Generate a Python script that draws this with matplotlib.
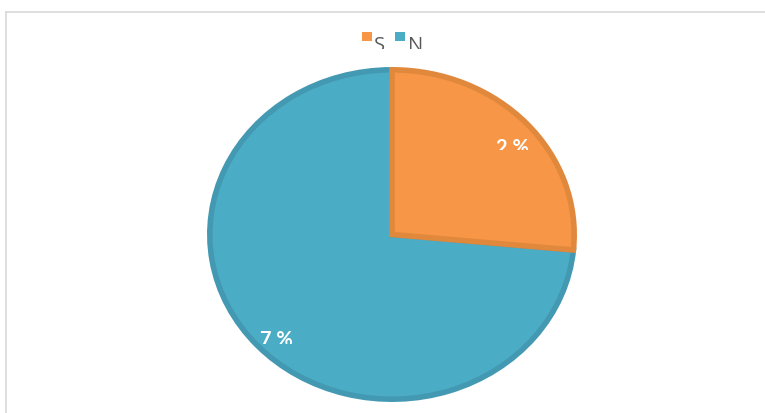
import matplotlib
matplotlib.use('Agg')
import matplotlib.pyplot as plt
from matplotlib.lines import Line2D
from matplotlib.patches import Rectangle
from matplotlib.transforms import Bbox, TransformedBbox

# Data
categories = ['S', 'N']
values = [26.5, 73.5]
value_labels = ['2 %', '7 %']          # labels as shown (cut off in the original)
fill_colors = ['#F79646', '#4BACC6']
edge_colors = ['#E0883C', '#4499B2']

W, H = 765, 413
fig = plt.figure(figsize=(W / 100, H / 100), dpi=100)


def fx(x):
    return x / W


def fy(y):
    return 1 - y / H


def clip_box(x0, y0, x1, y1):
    # box in image pixels (top-left origin)
    return TransformedBbox(Bbox.from_extents(fx(x0), fy(y1), fx(x1), fy(y0)), fig.transFigure)


# chart frame (left and top borders only are visible)
fig.add_artist(Line2D([fx(6.5), fx(6.5)], [fy(11.5), 0], color='#D9D9D9', lw=1.2))
fig.add_artist(Line2D([fx(6.5), 1], [fy(11.5), fy(11.5)], color='#D9D9D9', lw=1.2))

# pie axes (slightly stretched ellipse as in the original)
cx, cy = 392, 234.5
rx, ry = 182.2, 164.7
ax = fig.add_axes([fx(cx - rx), fy(cy + ry), 2 * rx / W, 2 * ry / H])
wedges, _ = ax.pie(values, colors=fill_colors, startangle=90, counterclock=False,
                   radius=1, wedgeprops=dict(linewidth=4))
for i, w in enumerate(wedges):
    w.set_edgecolor(edge_colors[i])
    w.set_clip_on(False)
wedges[0].set_zorder(3)
wedges[1].set_zorder(2)
ax.set_aspect('auto')
ax.set_xlim(-1, 1)
ax.set_ylim(-1, 1)
ax.axis('off')

# data labels (bottom part clipped, as in the original)
label_pos = [(512.5, 154, 150), (276.5, 346, 344)]
for (x, base, cut), txt in zip(label_pos, value_labels):
    t = fig.text(fx(x), fy(base), txt, color='white', fontsize=14.5, fontweight='bold',
                 family='Lato', ha='center', va='baseline', zorder=5)
    t.set_clip_box(clip_box(x - 40, base - 30, x + 40, cut))
    t.set_clip_on(True)

# legend at top (text clipped at bottom)
leg_items = [(362, 374), (395, 408)]
for (sx, tx), name, col in zip(leg_items, categories, fill_colors):
    fig.add_artist(Rectangle((fx(sx), fy(40.7)), 10 / W, 8.4 / H, transform=fig.transFigure,
                             facecolor=col, edgecolor='none'))
    t = fig.text(fx(tx), fy(51), name, color='#595959', fontsize=14.5,
                 family='Open Sans', ha='left', va='baseline')
    t.set_clip_box(clip_box(tx - 5, 20, tx + 30, 48.5))
    t.set_clip_on(True)

fig.savefig('out.png', dpi=100)
